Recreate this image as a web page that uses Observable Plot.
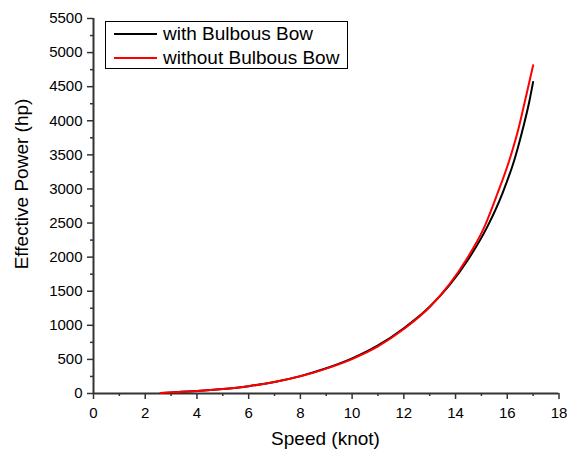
<!DOCTYPE html>
<html>
<head>
<meta charset="utf-8">
<script src="https://cdn.jsdelivr.net/npm/d3@7"></script>
<script src="https://cdn.jsdelivr.net/npm/@observablehq/plot@0.6"></script>
<style>
  html, body { margin: 0; padding: 0; background: #fff; }
  #wrap { position: relative; width: 573px; height: 453px; font-family: "Liberation Sans", Arial, sans-serif; color: #000; }
  #legend { position: absolute; left: 105px; top: 21px; width: 241px; height: 46px; border: 1px solid #000; background: #fff; }
  .row { position: absolute; left: 0; height: 22px; display: flex; align-items: center; font-size: 19px; white-space: nowrap; }
  .sw { width: 43px; height: 2px; margin-left: 8px; margin-right: 6px; }
  .title { position: absolute; font-size: 19px; white-space: nowrap; }
</style>
</head>
<body>
<div id="wrap"></div>
<script>
// Series
const speedWith    = [2.6, 3, 4, 5, 6, 7, 8, 9, 10, 11, 12, 13, 14.47, 15.23, 15.81, 16.27, 16.6, 16.85, 17];
const powerWith    = [8, 15, 35, 65, 108, 170, 255, 370, 515, 705, 958, 1272, 1955, 2447, 2933, 3422, 3880, 4280, 4570];
const speedWithout = [2.6, 3, 4, 5, 6, 7, 8, 9, 10, 11, 12, 13, 14.4, 15.12, 15.62, 16.08, 16.45, 16.72, 17];
const powerWithout = [8, 15, 35, 65, 108, 168, 252, 365, 505, 690, 945, 1268, 1955, 2447, 2933, 3422, 3910, 4350, 4815];

const seriesNames = ["with Bulbous Bow", "without Bulbous Bow"];
const seriesColors = ["#000000", "#ff0000"];

const xTicks = [0, 2, 4, 6, 8, 10, 12, 14, 16, 18];
const xMinor = [1, 3, 5, 7, 9, 11, 13, 15, 17];
const yTicks = [0, 500, 1000, 1500, 2000, 2500, 3000, 3500, 4000, 4500, 5000, 5500];
const yMinor = [250, 750, 1250, 1750, 2250, 2750, 3250, 3750, 4250, 4750, 5250];

const xLabel = "Speed (knot)";
const yLabel = "Effective Power (hp)";

const dWith = speedWith.map((s, i) => ({speed: s, power: powerWith[i]}));
const dWithout = speedWithout.map((s, i) => ({speed: s, power: powerWithout[i]}));

const axisColor = "#333";

const chart = Plot.plot({
  width: 573,
  height: 453,
  marginLeft: 93,
  marginRight: 14.5,
  marginTop: 18,
  marginBottom: 60,
  x: {domain: [0, 18]},
  y: {domain: [0, 5500]},
  style: {fontFamily: "'Liberation Sans', Arial, sans-serif", fontSize: "15px", color: "#000", background: "#fff"},
  marks: [
    Plot.axisX(xMinor, {tickSize: 3, text: null, label: null, stroke: axisColor, strokeWidth: 1.5}),
    Plot.axisX(xTicks, {tickSize: 6, tickPadding: 8, label: null, stroke: axisColor, strokeWidth: 1.5, tickFormat: d => String(d)}),
    Plot.axisY(yMinor, {tickSize: 3, text: null, label: null, stroke: axisColor, strokeWidth: 1.5}),
    Plot.axisY(yTicks, {tickSize: 6, tickPadding: 5, label: null, stroke: axisColor, strokeWidth: 1.5, tickFormat: d => String(d)}),
    Plot.ruleX([0], {stroke: axisColor, strokeWidth: 2}),
    Plot.ruleY([0], {stroke: axisColor, strokeWidth: 2}),
    Plot.line(dWith, {x: "speed", y: "power", stroke: seriesColors[0], strokeWidth: 2, curve: "monotone-x"}),
    Plot.line(dWithout, {x: "speed", y: "power", stroke: seriesColors[1], strokeWidth: 2, curve: "monotone-x"})
  ]
});

const wrap = document.getElementById("wrap");
wrap.appendChild(chart);

// Axis titles
const xt = document.createElement("div");
xt.className = "title";
xt.textContent = xLabel;
xt.style.left = "325.5px";
xt.style.top = "428px";
xt.style.transform = "translateX(-50%)";
wrap.appendChild(xt);

const yt = document.createElement("div");
yt.className = "title";
yt.textContent = yLabel;
yt.style.left = "22px";
yt.style.top = "184px";
yt.style.transform = "translate(-50%, -50%) rotate(-90deg)";
wrap.appendChild(yt);

// Legend
const lg = document.createElement("div");
lg.id = "legend";
seriesNames.forEach((name, i) => {
  const row = document.createElement("div");
  row.className = "row";
  row.style.top = (i === 0 ? 1 : 25) + "px";
  const sw = document.createElement("div");
  sw.className = "sw";
  sw.style.background = seriesColors[i];
  const tx = document.createElement("span");
  tx.textContent = name;
  row.appendChild(sw);
  row.appendChild(tx);
  lg.appendChild(row);
});
wrap.appendChild(lg);
</script>
</body>
</html>
